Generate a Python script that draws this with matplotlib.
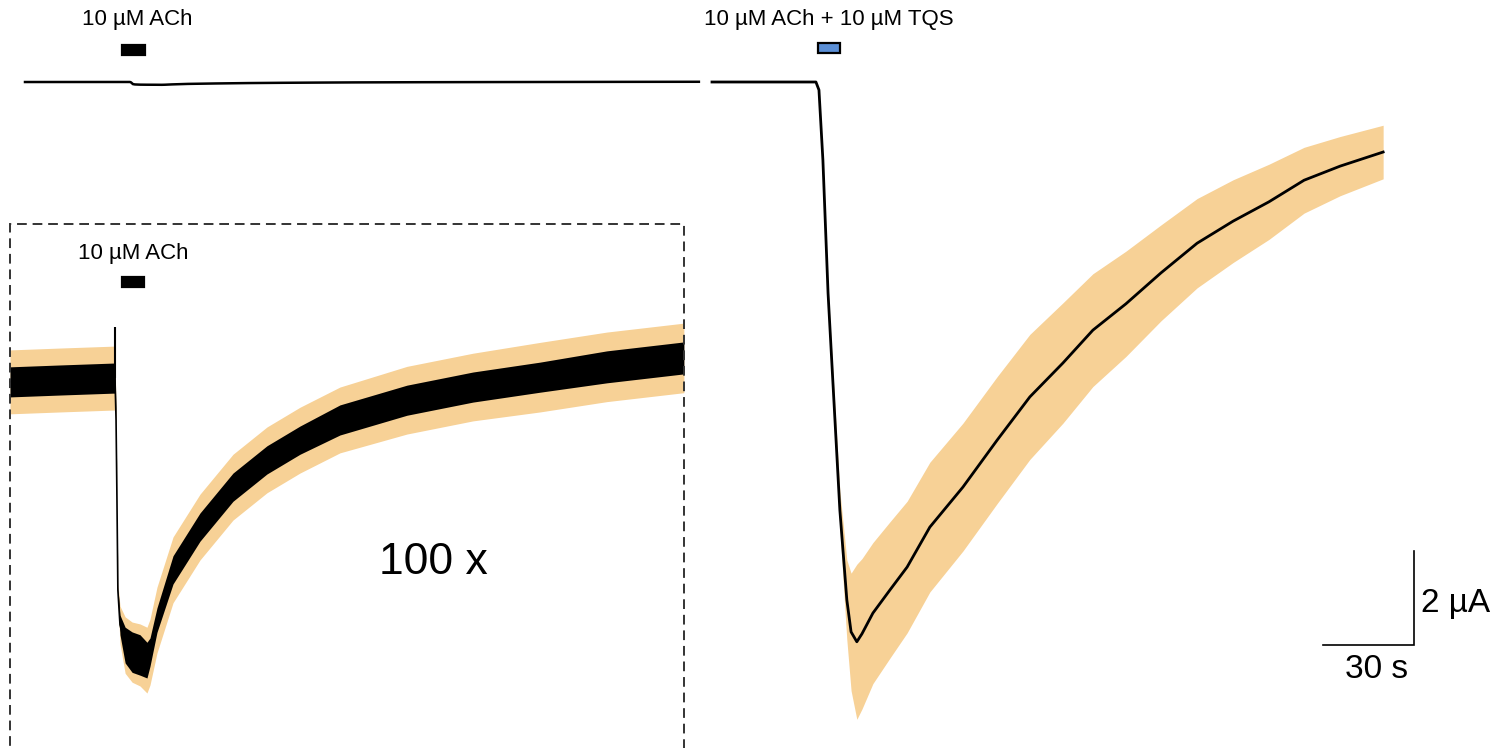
import matplotlib
matplotlib.use('Agg')
import matplotlib.pyplot as plt
from matplotlib.patches import Rectangle
import numpy as np

plt.rcParams['font.family'] = ['Liberation Sans', 'DejaVu Sans']

# ============================================================
# Data
# ============================================================

# 10 uM ACh alone: mean current (nA), spread of the point cloud and SEM (nA)
ach_t    = [0.0, 16.5, 34.0, 34.65, 35.0, 35.3, 35.6, 36.3, 38.0, 40.3, 42.9, 45.2, 46.2,
            48.5, 53.8, 62.7, 73.6, 84.8, 95.7, 108.9, 131.0, 152.8, 174.9, 197.0, 222.4]
ach_mean = [-0.4, 0.0, 0.4, 0.4, -8.5, -25.5, -44.7, -52.1, -56.4, -57.9, -58.5, -59.6, -57.9,
            -51.1, -40.4, -31.3, -22.8, -17.0, -12.8, -8.5, -4.3, -1.5, 0.6, 2.8, 4.7]
ach_dots = [3.2, 3.2, 3.2, 3.2, 0.6, 0.4, 0.6, 2.1, 3.8, 4.3, 4.3, 3.8, 3.0,
            2.6, 3.0, 3.0, 3.0, 3.0, 3.0, 3.2, 3.2, 3.2, 3.2, 3.4, 3.4]
ach_sem  = [6.8, 6.8, 6.8, 6.8, 0.9, 0.9, 1.5, 4.0, 6.0, 6.4, 6.6, 7.0, 7.0,
            7.0, 7.0, 7.0, 7.0, 7.0, 7.0, 7.0, 7.2, 7.2, 7.4, 7.4, 7.4]
ach_spike_t, ach_spike_top = 34.65, 11.3

# 10 uM ACh + 10 uM TQS: mean current and SEM (uA)
tqs_t    = [0.0, 34.3, 35.3, 36.6, 38.3, 42.2, 44.5, 45.9, 47.8, 49.5, 53.1, 58.7, 64.4,
            71.9, 82.8, 94.1, 104.9, 115.8, 125.7, 136.6, 148.2, 160.1, 172.0, 183.8,
            195.4, 207.3, 221.5]
tqs_mean = [0.0, 0.0, -0.17, -1.66, -4.49, -9.11, -11.02, -11.70, -11.91, -11.74, -11.30,
            -10.81, -10.32, -9.47, -8.62, -7.62, -6.70, -5.98, -5.28, -4.72, -4.06, -3.43,
            -2.96, -2.55, -2.09, -1.79, -1.49]
tqs_sem  = [0.0, 0.0, 0.0, 0.05, 0.1, 0.4, 0.85, 1.25, 1.65, 1.6, 1.5, 1.45, 1.4,
            1.38, 1.36, 1.35, 1.33, 1.28, 1.2, 1.12, 1.02, 0.95, 0.88, 0.8, 0.7, 0.63, 0.57]

# drug application windows (s)
app_top  = (32.0, 39.6)
app_tqs  = (35.0, 42.2)
app_zoom = (37.0, 44.2)

scale_t, scale_i = 30, 2   # s, uA

# ============================================================
# Layout
# ============================================================

C_SEM = '#f7d196'
C_BLUE = '#5b8fd6'

W, H = 1509, 748
PX_S = 3.03      # px per second
PX_UA = 47.0     # px per uA at 1x

fig = plt.figure(figsize=(W / 100, H / 100), dpi=100)


def trace_axes(x0, base, px_y):
    ax = fig.add_axes([0, 0, 1, 1])
    ax.set_axis_off()
    ax.set_xlim(-x0 / PX_S, (W - x0) / PX_S)
    ax.set_ylim(-(H - base) / px_y, base / px_y)
    return ax


def app_bar(ax, win, ytop, color, label, ylab, dx=0):
    ax.add_patch(Rectangle((win[0], 1 - (ytop + 10) / H), win[1] - win[0], 10 / H,
                           transform=ax.get_xaxis_transform(), fc=color, ec='black',
                           lw=1.6, clip_on=False))
    ax.text((win[0] + win[1]) / 2 + dx, 1 - ylab / H, label, transform=ax.get_xaxis_transform(),
            ha='center', va='center', fontsize=16)


# top left: ACh alone at 1x
ax = trace_axes(25, 82, PX_UA)
ax.plot(ach_t, np.array(ach_mean) / 1000, color='black', lw=1.8)
app_bar(ax, app_top, 45, 'black', '10 µM ACh', 19, dx=1.2)

# right: ACh + TQS
ax = trace_axes(712, 82, PX_UA)
m, s = np.array(tqs_mean), np.array(tqs_sem)
ax.fill_between(tqs_t, m - s, m + s, color=C_SEM, lw=0)
ax.plot(tqs_t, m, color='black', lw=2.0)
app_bar(ax, app_tqs, 43, C_BLUE, '10 µM ACh + 10 µM TQS', 19)

# scale bar
sb_x = (1414 - 712) / PX_S
sb_y = -(645 - 82) / PX_UA
ax.plot([sb_x - scale_t, sb_x, sb_x], [sb_y, sb_y, sb_y + scale_i], color='black', lw=1.2,
        solid_joinstyle='miter')
ax.text(sb_x + 2.3, sb_y + 0.7, f'{scale_i} µA', ha='left', va='baseline', fontsize=24)
ax.text(sb_x - 12.5, sb_y - 0.7, f'{scale_t} s', ha='center', va='baseline', fontsize=24)

# inset: ACh alone at 100x (units nA)
ax = trace_axes(10, 380, PX_UA / 10)
m, d, s = np.array(ach_mean), np.array(ach_dots), np.array(ach_sem)
ax.fill_between(ach_t, m - s, m + s, color=C_SEM, lw=0)
ax.fill_between(ach_t, m - d, m + d, color='black', lw=0)
ax.plot(ach_t, m, color='black', lw=1.2)
ax.vlines(ach_spike_t, m[3], ach_spike_top, color='black', lw=1.5)
app_bar(ax, app_zoom, 277, 'black', '10 µM ACh', 254)

fig.add_artist(Rectangle((10 / W, -0.05), 674 / W, (H - 224) / H + 0.05,
                         transform=fig.transFigure, fill=False, ec='#333333', lw=1.4,
                         ls=(0, (5, 3))))
fig.text(433 / W, 1 - 563 / H, '100 x', ha='center', va='center', fontsize=32)

fig.savefig('out.png', dpi=100)
